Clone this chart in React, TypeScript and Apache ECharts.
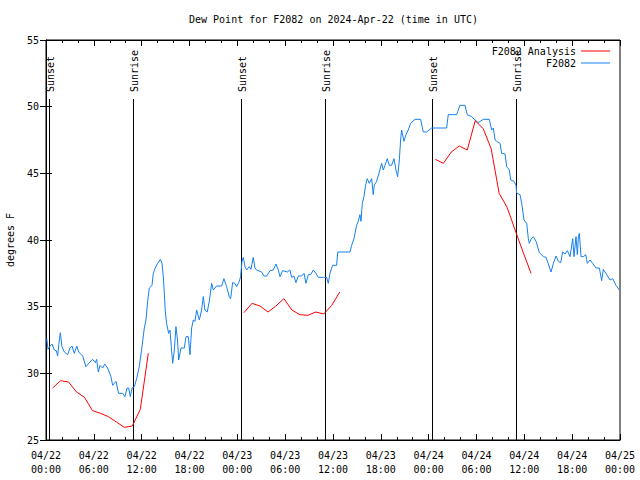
import React, { useEffect, useRef } from "react";
import * as echarts from "echarts";

const FONT = "DejaVu Sans Mono";

// x values are hours since 2024-04-22 00:00 UTC
const xTickLabels = [
  "04/22\n00:00", "04/22\n06:00", "04/22\n12:00", "04/22\n18:00",
  "04/23\n00:00", "04/23\n06:00", "04/23\n12:00", "04/23\n18:00",
  "04/24\n00:00", "04/24\n06:00", "04/24\n12:00", "04/24\n18:00",
  "04/25\n00:00",
];

const obsHours = [
  0.1, 0.25, 0.45, 0.75, 1.05, 1.3, 1.46, 1.67, 1.8, 2.0, 2.3, 2.72, 3.0, 3.26, 3.55, 3.85, 4.1, 4.6, 5.0, 5.43,
  5.85, 6.19, 6.35, 6.56, 6.77, 7.1, 7.36, 7.73, 8.15, 8.36, 8.78, 9.1, 9.6, 9.9, 10.16, 10.37, 10.58, 10.79, 11.08, 11.37,
  11.7, 12.04, 12.33, 12.54, 12.75, 12.96, 13.3, 13.46, 13.7, 14.0, 14.34, 14.55, 14.72, 14.97, 15.13, 15.38, 15.55, 15.72, 15.89, 16.1,
  16.3, 16.5, 16.64, 16.93, 17.35, 17.56, 17.85, 18.06, 18.27, 18.48, 18.69, 18.9, 19.23, 19.52, 19.73, 19.94, 20.23, 20.48, 20.78, 20.99,
  21.4, 22.03, 22.32, 22.66, 22.99, 23.16, 23.41, 23.7, 23.91, 24.25, 24.41, 24.58, 24.75, 24.96, 25.17, 25.5, 25.71, 26.0, 26.21, 26.42,
  27.05, 27.34, 27.68, 28.1, 28.51, 28.85, 29.14, 29.35, 29.68, 30.27, 30.6, 30.81, 31.1, 31.35, 31.65, 32.06, 32.36, 32.61, 32.9, 33.2,
  33.53, 33.86, 34.15, 34.78, 35.2, 35.41, 35.62, 35.95, 36.45, 36.6, 38.13, 38.34, 38.63, 38.96, 39.17, 39.38, 39.51, 39.68, 39.88, 40.09,
  40.3, 40.55, 40.85, 41.05, 41.18, 41.47, 41.81, 42.1, 42.31, 42.52, 42.81, 43.06, 43.35, 43.65, 43.9, 44.11, 44.32, 44.48, 44.61, 44.9,
  45.15, 45.44, 45.74, 46.28, 46.99, 47.33, 47.74, 48.37, 49.0, 49.83, 50.25, 50.46, 51.51, 51.92, 52.55, 52.84, 53.39, 53.81, 54.22, 54.85,
  55.61, 55.9, 56.12, 56.33, 56.54, 56.95, 57.16, 57.58, 57.79, 58.12, 58.29, 58.71, 58.96, 59.04, 59.46, 59.67, 59.96, 60.3, 60.5, 60.63,
  60.84, 61.13, 61.47, 61.89, 62.39, 62.72, 63.01, 63.35, 63.64, 63.98, 64.27, 64.56, 64.81, 65.1, 65.4, 65.73, 66.07, 66.23, 66.48, 66.65,
  66.78, 66.9, 67.11, 67.4, 67.7, 67.9, 68.24, 68.57, 68.99, 69.41, 69.7, 69.91, 70.33, 70.75, 71.09, 71.5, 71.92,
];

const obsValues = [
  32.6, 31.8, 32.0, 32.2, 31.75, 31.7, 31.3, 32.5, 33.05, 32.0, 31.6, 31.4, 31.9, 32.05, 31.5, 32.05, 31.6, 31.3, 30.5, 30.8,
  31.05, 30.8, 31.05, 30.1, 30.6, 30.4, 30.7, 30.4, 29.75, 29.1, 29.4, 28.5, 28.5, 28.25, 28.9, 28.9, 28.25, 28.9, 29.0, 29.6,
  30.5, 32.0, 33.4, 34.0, 35.4, 36.4, 36.6, 37.5, 37.9, 38.25, 38.55, 38.25, 37.25, 34.6, 33.75, 33.0, 33.25, 32.0, 30.75, 31.75,
  33.5, 32.5, 31.0, 31.9, 31.9, 32.75, 32.75, 31.4, 33.4, 34.0, 33.9, 34.75, 34.0, 34.75, 35.75, 34.75, 34.6, 35.4, 36.75, 36.25,
  36.55, 36.55, 37.1, 36.5, 35.75, 35.6, 36.8, 36.75, 36.5, 36.9, 37.25, 38.4, 38.7, 38.0, 37.75, 38.0, 37.8, 38.7, 37.9, 37.75,
  37.6, 37.3, 37.3, 37.7, 37.75, 38.2, 37.75, 37.25, 37.7, 37.6, 37.75, 37.2, 37.3, 36.8, 37.3, 37.3, 37.5, 36.75, 37.4, 37.4,
  37.75, 37.5, 37.2, 37.2, 37.2, 36.75, 37.5, 38.1, 38.1, 39.1, 39.1, 39.6, 40.1, 41.1, 41.4, 41.9, 41.4, 42.75, 43.25, 44.1,
  44.6, 44.25, 44.6, 43.4, 44.1, 44.4, 45.1, 45.75, 45.25, 45.6, 46.1, 45.6, 45.6, 46.1, 45.25, 44.75, 46.0, 47.5, 48.25, 47.4,
  47.9, 48.25, 48.75, 49.05, 49.05, 48.1, 48.1, 48.4, 48.4, 48.4, 48.4, 49.4, 49.4, 50.1, 50.1, 49.4, 49.25, 49.0, 48.8, 49.05,
  49.05, 48.25, 48.4, 47.5, 47.4, 47.25, 46.5, 46.45, 45.5, 45.25, 44.5, 44.4, 44.1, 43.5, 43.4, 42.75, 41.5, 41.25, 40.1, 39.75,
  40.05, 40.25, 39.9, 39.05, 38.75, 38.7, 38.2, 37.6, 38.25, 38.8, 38.4, 38.3, 39.1, 38.95, 39.2, 38.75, 40.1, 38.75, 40.25, 38.9,
  40.25, 40.5, 38.75, 38.75, 38.9, 38.25, 38.5, 38.25, 37.9, 37.9, 36.95, 37.8, 37.4, 37.0, 37.1, 36.6, 36.25,
];

// Analysis runs: hourly values, each run starting at the given hour
const analysisStarts = [0.83, 24.84, 48.84];
const analysisRun1 = [28.9, 29.45, 29.35, 28.6, 28.2, 27.2, 27.0, 26.75, 26.35, 25.95, 26.05, 27.3, 31.5];
const analysisRun2 = [34.55, 35.25, 35.05, 34.6, 35.05, 35.6, 34.75, 34.4, 34.35, 34.6, 34.45, 35.1, 36.1];
const analysisRun3 = [46.05, 45.75, 46.6, 47.05, 46.75, 48.95, 48.35, 46.85, 43.5, 42.45, 40.75, 39.1, 37.5];

const sunHours = [0.4, 10.95, 24.47, 35.0, 48.46, 59.0];
const sunLabels = ["Sunset", "Sunrise", "Sunset", "Sunrise", "Sunset", "Sunrise"];

export default function App() {
  const ref = useRef<HTMLDivElement>(null);

  useEffect(() => {
    if (!ref.current) return;
    const chart = echarts.init(ref.current, undefined, { renderer: "svg" });

    const obsData = obsHours.map((h, i) => [h, obsValues[i]]);
    const runs = [analysisRun1, analysisRun2, analysisRun3];
    const RED = "#ff0000";
    const BLUE = "#1580f0";

    const analysisSeries = runs.map((run, r) => ({
      name: "F2082 Analysis",
      type: "line",
      symbol: "none",
      data: run.map((v, k) => [analysisStarts[r] + k, v]),
      lineStyle: { color: RED, width: 1 },
      itemStyle: { color: RED },
      z: 3,
    }));

    const axisCommon = {
      axisLine: { show: true, lineStyle: { color: "#000", width: 1 } },
      splitLine: { show: false },
    };

    chart.setOption({
      animation: false,
      backgroundColor: "#fff",
      title: {
        text: "Dew Point for F2082 on 2024-Apr-22 (time in UTC)",
        left: 189,
        top: 14,
        padding: 0,
        textStyle: { fontFamily: FONT, fontSize: 10, fontWeight: "normal", color: "#000" },
      },
      legend: {
        data: [
          { name: "F2082 Analysis", icon: "rect" },
          { name: "F2082", icon: "rect" },
        ],
        orient: "vertical",
        right: 30,
        top: 45,
        align: "right",
        itemWidth: 29,
        itemHeight: 1,
        itemGap: 0,
        padding: 0,
        textStyle: { fontFamily: FONT, fontSize: 10, color: "#000", lineHeight: 12 },
      },
      grid: {
        left: 46,
        right: 20,
        top: 40,
        bottom: 40,
        containLabel: false,
        outerBoundsMode: "none",
        show: true,
        borderColor: "#000",
        borderWidth: 1,
      },
      xAxis: [
        {
          type: "value",
          min: 0,
          max: 72,
          interval: 6,
          position: "bottom",
          ...axisCommon,
          axisTick: { show: true, inside: true, length: 6, lineStyle: { color: "#000" } },
          minorTick: { show: true, splitNumber: 3, length: 3, lineStyle: { color: "#000" } },
          axisLabel: {
            margin: 8,
            fontFamily: FONT,
            fontSize: 10,
            color: "#000",
            lineHeight: 14,
            formatter: (v: number) => xTickLabels[Math.round(v / 6)] ?? "",
          },
        },
        {
          type: "value",
          min: 0,
          max: 72,
          interval: 6,
          position: "top",
          ...axisCommon,
          axisTick: { show: true, inside: true, length: 6, lineStyle: { color: "#000" } },
          minorTick: { show: true, splitNumber: 3, length: 3, lineStyle: { color: "#000" } },
          axisLabel: { show: false },
        },
      ],
      yAxis: [
        {
          type: "value",
          min: 25,
          max: 55,
          interval: 5,
          position: "left",
          ...axisCommon,
          axisTick: { show: true, inside: true, length: 6, lineStyle: { color: "#000" } },
          axisLabel: { margin: 7, fontFamily: FONT, fontSize: 10, color: "#000" },
          name: "degrees F",
          nameLocation: "middle",
          nameGap: 31,
          nameTextStyle: { fontFamily: FONT, fontSize: 10, color: "#000" },
        },
        {
          type: "value",
          min: 25,
          max: 55,
          interval: 5,
          position: "right",
          ...axisCommon,
          axisTick: { show: true, inside: true, length: 6, lineStyle: { color: "#000" } },
          axisLabel: { show: false },
        },
      ],
      series: [
        {
          name: "sun",
          type: "custom",
          silent: true,
          data: sunHours.map((h, i) => [h, i]),
          encode: { x: 0 },
          z: 1,
          renderItem: (params: any, api: any) => {
            const t = api.value(0);
            const idx = api.value(1);
            const top = api.coord([t, 50.6]);
            const bottom = api.coord([t, 25]);
            const lab = api.coord([t, 51.1]);
            const x = Math.round(top[0]) + 0.5;
            return {
              type: "group",
              children: [
                {
                  type: "line",
                  shape: { x1: x, y1: Math.round(top[1]), x2: x, y2: bottom[1] },
                  style: { stroke: "#000", lineWidth: 1 },
                },
                {
                  type: "text",
                  x: x + 1,
                  y: lab[1],
                  rotation: Math.PI / 2,
                  style: {
                    text: sunLabels[idx],
                    fill: "#000",
                    font: `10px ${FONT}`,
                    align: "left",
                    verticalAlign: "middle",
                  },
                },
              ],
            };
          },
        },
        ...analysisSeries,
        {
          name: "F2082",
          type: "line",
          symbol: "none",
          data: obsData,
          lineStyle: { color: BLUE, width: 1 },
          itemStyle: { color: BLUE },
          z: 2,
        },
      ],
    });

    return () => chart.dispose();
  }, []);

  return <div ref={ref} style={{ width: 640, height: 480, position: "absolute", left: 0, top: 0 }} />;
}
